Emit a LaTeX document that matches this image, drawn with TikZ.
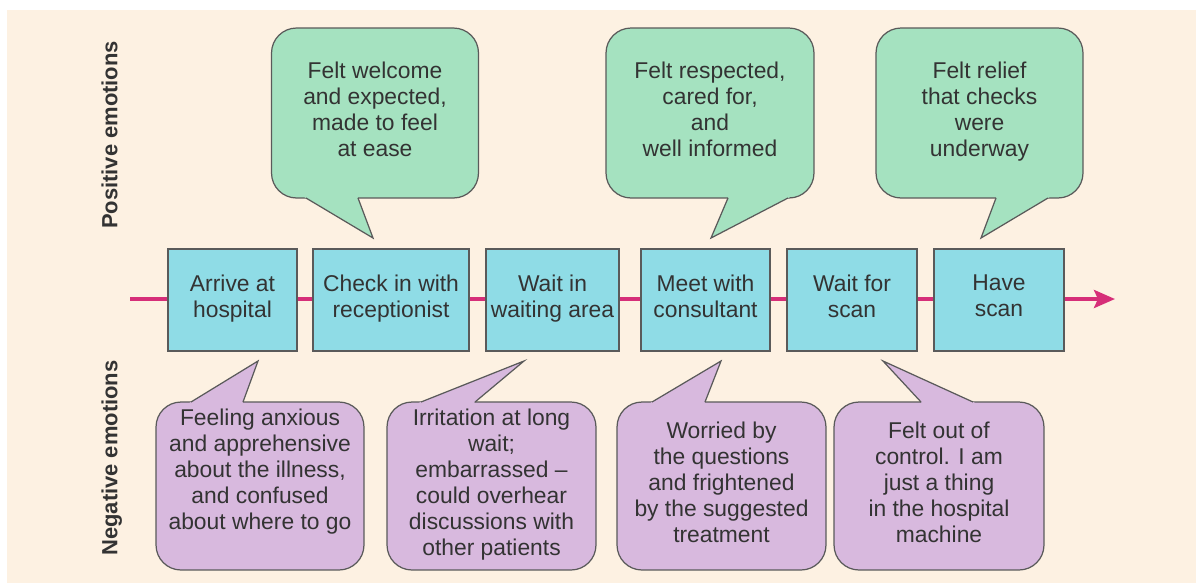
\documentclass[tikz,border=0pt]{standalone}
\usepackage{fontspec}
\setmainfont{Liberation Sans}
\usetikzlibrary{arrows.meta,calc}
\definecolor{paper}{HTML}{FDF1E2}
\definecolor{stagecyan}{HTML}{8FDCE6}
\definecolor{goodgreen}{HTML}{A5E2C0}
\definecolor{badpurple}{HTML}{D8B9DE}
\definecolor{lineplum}{HTML}{D62E78}
\definecolor{edgegrey}{HTML}{5A5A5A}
\definecolor{inkgrey}{HTML}{333333}

\begin{document}
\begin{tikzpicture}[x=0.02cm,y=-0.02cm,
  every node/.style={font=\fontsize{13}{14.8}\selectfont,text=inkgrey,align=center,
    execute at begin node={\rule{0pt}{14.4pt}},execute at end node=\strut},
  stage/.style={draw=edgegrey,fill=stagecyan,line width=0.7pt,minimum height=2.04cm,inner sep=0pt},
  bubble/.style={draw=edgegrey,line width=0.7pt,rounded corners=0.5cm,inner sep=0pt},
  goodbub/.style={bubble,fill=goodgreen,minimum width=4.14cm,minimum height=3.4cm},
  badbub/.style={bubble,fill=badpurple,minimum width=4.18cm,minimum height=3.36cm},
  tailedge/.style={draw=edgegrey,line width=0.7pt},
  sidelabel/.style={rotate=90,font=\fontsize{12.5}{14}\selectfont\bfseries}]
  \useasboundingbox (0,0) rectangle (1196,586);
  \fill[paper] (7,10) rectangle (1196,583);

  % side labels
  \node[sidelabel] (lpos) at (108.5,135) {Positive emotions};
  \node[sidelabel] (lneg) at (108.5,458) {Negative emotions};

  % timeline
  \coordinate (start) at (130,299);
  \coordinate (finish) at (1115,299);
  \draw[lineplum,line width=2.2pt,-{Stealth[length=0.42cm,width=0.36cm,inset=0.08cm]}] (start) -- (finish);

  % stages
  \node[stage,minimum width=2.58cm] (s1) at (232.5,300) {Arrive at\\hospital};
  \node[stage,minimum width=3.12cm] (s2) at (391,300) {Check in with\\receptionist};
  \node[stage,minimum width=2.66cm] (s3) at (552.5,300) {Wait in\\waiting area};
  \node[stage,minimum width=2.58cm] (s4) at (705.5,300) {Meet with\\consultant};
  \node[stage,minimum width=2.6cm] (s5) at (852,300) {Wait for\\scan};
  \node[stage,minimum width=2.6cm] (s6) at (999,300) {Have\\scan};

  % positive bubbles
  \node[goodbub] (g1) at (375,113) {Felt welcome\\and expected,\\made to feel\\at ease};
  \node[goodbub,minimum width=4.16cm] (g2) at (710,113) {Felt respected,\\cared for,\\and\\well informed};
  \node[goodbub] (g3) at (979.5,113) {Felt relief\\that checks\\were\\underway};
  \coordinate (tg1) at (373,238);
  \coordinate (tg2) at (711,238);
  \coordinate (tg3) at (981,238);
  \fill[goodgreen] (tg1) -- ($(tg1)!1.1!(306,198)$) -- ($(tg1)!1.1!(358,198)$) -- cycle;
  \draw[tailedge] (306,198) -- (tg1) -- (358,198);
  \fill[goodgreen] (tg2) -- ($(tg2)!1.1!(728,198)$) -- ($(tg2)!1.1!(788,198)$) -- cycle;
  \draw[tailedge] (728,198) -- (tg2) -- (788,198);
  \fill[goodgreen] (tg3) -- ($(tg3)!1.1!(996,198)$) -- ($(tg3)!1.1!(1048,198)$) -- cycle;
  \draw[tailedge] (996,198) -- (tg3) -- (1048,198);

  % negative bubbles
  \node[badbub,minimum width=4.16cm] (n1) at (260,486) {Feeling anxious\\and apprehensive\\about the illness,\\and confused\\about where to go\\~};
  \node[badbub] (n2) at (491.5,486) {Irritation at long\\wait;\\embarrassed --\\could overhear\\discussions with\\other patients};
  \node[badbub] (n3) at (721.5,486) {Worried by\\the questions\\and frightened\\by the suggested\\treatment};
  \node[badbub,minimum width=4.2cm] (n4) at (939,486) {Felt out of\\control. I am\\just a thing\\in the hospital\\machine};
  \coordinate (tn1) at (258,361);
  \coordinate (tn2) at (524,361);
  \coordinate (tn3) at (721,361);
  \coordinate (tn4) at (883,361);
  \fill[badpurple] (tn1) -- ($(tn1)!1.1!(191,402)$) -- ($(tn1)!1.1!(243,402)$) -- cycle;
  \draw[tailedge] (191,402) -- (tn1) -- (243,402);
  \fill[badpurple] (tn2) -- ($(tn2)!1.1!(421,402)$) -- ($(tn2)!1.1!(475,402)$) -- cycle;
  \draw[tailedge] (421,402) -- (tn2) -- (475,402);
  \fill[badpurple] (tn3) -- ($(tn3)!1.1!(652,402)$) -- ($(tn3)!1.1!(705,402)$) -- cycle;
  \draw[tailedge] (652,402) -- (tn3) -- (705,402);
  \fill[badpurple] (tn4) -- ($(tn4)!1.1!(921,402)$) -- ($(tn4)!1.1!(973,402)$) -- cycle;
  \draw[tailedge] (921,402) -- (tn4) -- (973,402);
\end{tikzpicture}
\end{document}
